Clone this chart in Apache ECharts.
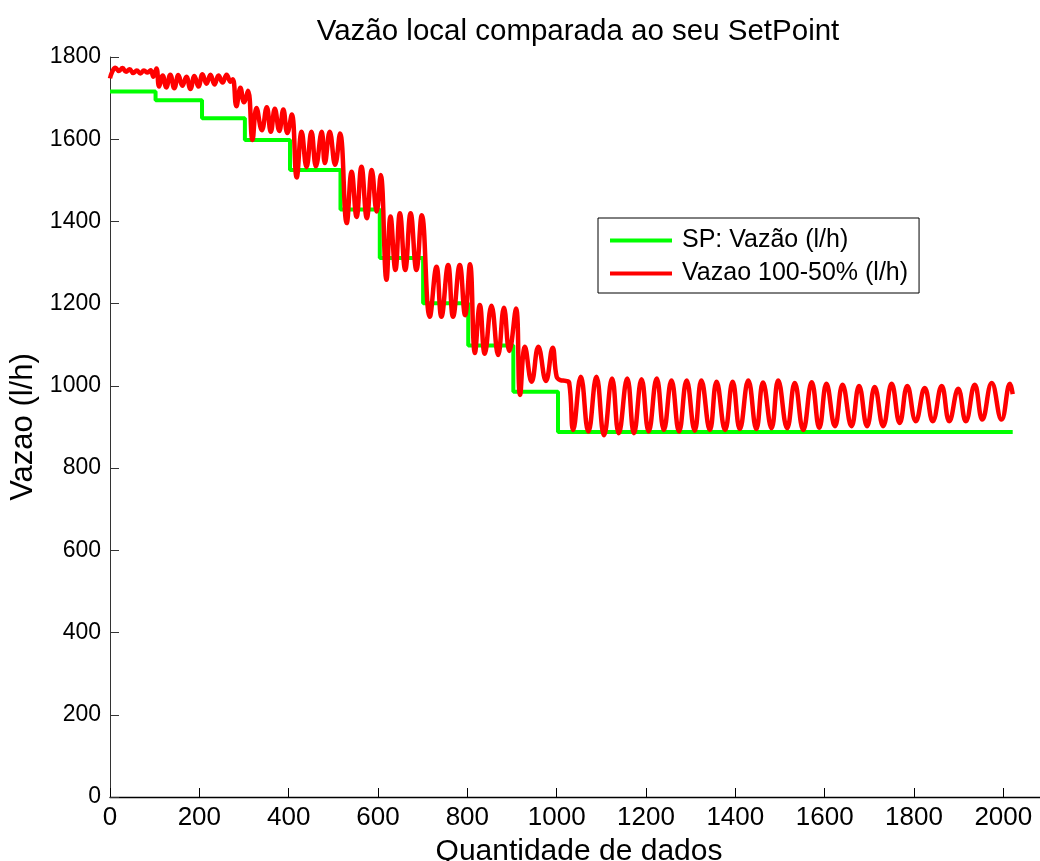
<!DOCTYPE html>
<html>
<head>
<meta charset="utf-8">
<script src="https://cdn.jsdelivr.net/npm/echarts@6/dist/echarts.min.js"></script>
<style>
  html, body { margin: 0; padding: 0; background: #fff; }
  #chart { width: 1040px; height: 861px; }
</style>
</head>
<body>
<div id="chart"></div>
<script>
// Set point of the flow controller (step changes at the listed sample index)
const spIndex = [0, 102, 206, 302, 403, 516, 604, 701, 802, 903, 1003, 2021];
const spValue = [1716, 1695, 1651, 1598, 1525, 1429, 1311, 1201, 1098, 986, 888, 888];

// Measured flow, sample index and value at each turning point of the oscillation
const flowIndex = [
  0, 5, 12, 20, 28, 36, 44, 52, 60, 68, 76, 84, 91, 97, 104,
  110, 118, 126, 135, 144, 153, 162, 171, 180, 189, 198, 207, 216, 225, 234, 243, 252, 261, 270, 275,
  283, 292, 300, 309, 319,
  328, 340, 351, 360, 369, 379, 388, 397, 407,
  418, 429, 440, 451, 461, 474, 481, 492, 504, 515,
  530, 541, 552, 563, 575, 586, 597, 606,
  619, 628, 639, 649, 661, 673, 686, 698,
  716, 731, 742, 757, 768, 783, 795, 806,
  817, 828, 839, 854, 869, 882, 894, 909,
  918, 929, 944, 959, 976, 991, 1000, 1008, 1020, 1028,
  1037, 1054, 1071, 1089, 1106, 1124, 1139, 1158, 1173, 1190, 1206, 1224, 1240, 1257, 1274, 1291,
  1309, 1324, 1343, 1358, 1377, 1394, 1410, 1429, 1447, 1462, 1481, 1496, 1516, 1533, 1552, 1571,
  1588, 1604, 1623, 1640, 1660, 1677, 1695, 1712, 1731, 1750, 1768, 1785, 1804, 1824, 1842, 1862,
  1879, 1899, 1916, 1936, 1953, 1974, 1996, 2015, 2021
];
const flowValue = [
  1748, 1764, 1774, 1766, 1773, 1764, 1770, 1761, 1767, 1760, 1767, 1762, 1768, 1752, 1772,
  1728, 1755, 1726, 1757, 1724, 1756, 1730, 1752, 1722, 1754, 1728, 1758, 1735, 1757, 1733, 1755, 1738, 1757, 1740, 1746,
  1680, 1725, 1690, 1718, 1598,
  1676, 1622, 1678, 1618, 1674, 1620, 1672, 1615, 1660,
  1507, 1618, 1532, 1618, 1534, 1618, 1542, 1618, 1538, 1614,
  1396, 1521, 1411, 1533, 1408, 1525, 1424, 1513,
  1258, 1412, 1282, 1420, 1282, 1420, 1282, 1415,
  1168, 1290, 1168, 1294, 1168, 1294, 1172, 1296,
  1080, 1197, 1078, 1195, 1075, 1190, 1085, 1188,
  978, 1095, 1010, 1095, 1012, 1093, 1022, 1014, 1012, 1008,
  893, 1022, 889, 1022, 880, 1018, 885, 1018, 885, 1016, 889, 1018, 893, 1013, 889, 1013,
  891, 1013, 893, 1010, 893, 1010, 895, 1013, 895, 1008, 897, 1013, 897, 1007, 893, 1009,
  898, 1005, 902, 1003, 902, 1000, 902, 997, 902, 1005, 910, 1000, 914, 995, 914, 1000,
  914, 993, 914, 1003, 918, 1007, 918, 1005, 980
];

const xTicks = { min: 0, max: 2100, step: 200 };
const yTicks = { min: 0, max: 1800, step: 200 };

const pairs = (xs, ys) => xs.map((x, i) => [x, ys[i]]);
const plain = (v) => String(v);

const chart = echarts.init(document.getElementById('chart'), null, { renderer: 'canvas' });

chart.setOption({
  animation: false,
  backgroundColor: '#ffffff',
  title: {
    text: 'Vazão local comparada ao seu SetPoint',
    left: 573,
    top: 12,
    textAlign: 'center',
    textStyle: { fontFamily: 'Liberation Sans', fontSize: 29.5, fontWeight: 'normal', color: '#000' }
  },
  legend: {
    orient: 'vertical',
    left: 598,
    top: 218,
    backgroundColor: '#ffffff',
    borderColor: '#000',
    borderWidth: 1,
    borderRadius: 0,
    padding: [10, 11, 7, 12],
    itemWidth: 62,
    itemHeight: 4,
    itemGap: 8,
    icon: 'rect',
    textStyle: { fontFamily: 'Liberation Sans', fontSize: 25, lineHeight: 24, color: '#000', padding: [0, 0, 0, 5] },
    data: ['SP: Vazão (l/h)', 'Vazao 100-50% (l/h)']
  },
  grid: { left: 110, top: 57, bottom: 64, right: -8, containLabel: false, outerBoundsMode: 'none' },
  xAxis: {
    type: 'value',
    min: xTicks.min,
    max: xTicks.max,
    interval: xTicks.step,
    name: 'Quantidade de dados',
    nameLocation: 'middle',
    nameGap: 40,
    nameTextStyle: { fontFamily: 'Liberation Sans', fontSize: 30, color: '#000' },
    axisLine: { lineStyle: { color: '#000', width: 1.3 } },
    axisTick: { inside: true, length: 9, lineStyle: { color: '#000', width: 1 } },
    axisLabel: { showMaxLabel: false, margin: 8, formatter: plain, fontFamily: 'Liberation Sans', fontSize: 26, color: '#000' },
    splitLine: { show: false }
  },
  yAxis: {
    type: 'value',
    min: yTicks.min,
    max: yTicks.max,
    interval: yTicks.step,
    name: 'Vazao (l/h)',
    nameLocation: 'middle',
    nameGap: 59,
    nameRotate: 90,
    nameTextStyle: { fontFamily: 'Liberation Sans', fontSize: 31, color: '#000' },
    axisLine: { lineStyle: { color: '#333', width: 1 } },
    axisTick: { inside: true, length: 9, lineStyle: { color: '#333', width: 1 } },
    axisLabel: { margin: 9, formatter: plain, fontFamily: 'Liberation Sans', fontSize: 23, color: '#000' },
    splitLine: { show: false }
  },
  series: [
    {
      name: 'SP: Vazão (l/h)',
      type: 'line',
      step: 'end',
      showSymbol: false,
      color: '#00ff00',
      lineStyle: { color: '#00ff00', width: 4 },
      data: pairs(spIndex, spValue)
    },
    {
      name: 'Vazao 100-50% (l/h)',
      type: 'line',
      smooth: 0.45,
      showSymbol: false,
      color: '#ff0000',
      lineStyle: { color: '#ff0000', width: 4.5 },
      data: pairs(flowIndex, flowValue)
    }
  ]
});
</script>
</body>
</html>
